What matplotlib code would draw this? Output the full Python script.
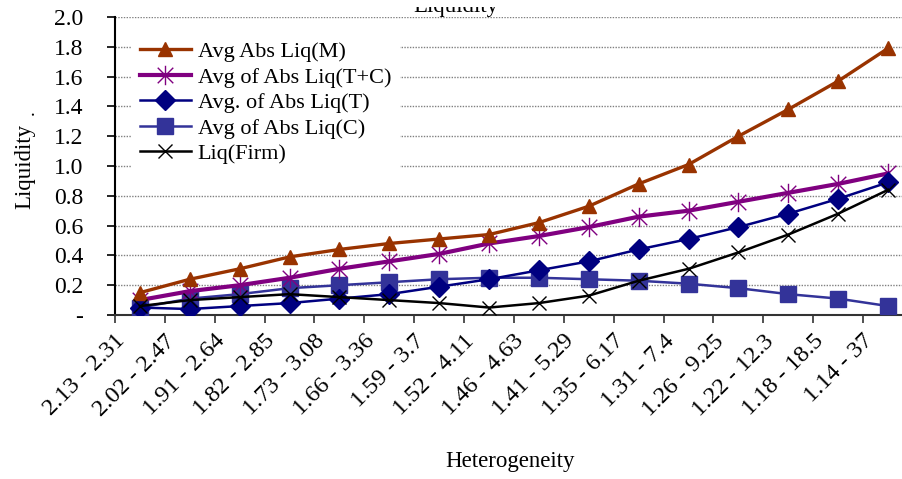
import matplotlib
matplotlib.use("Agg")
import matplotlib.pyplot as plt
import numpy as np
from matplotlib.path import Path
from matplotlib.ticker import FuncFormatter, FixedLocator, NullFormatter
from matplotlib.transforms import Bbox, ScaledTranslation

plt.rcParams["font.family"] = ["Liberation Serif", "DejaVu Serif"]

groups = ["2.13 - 2.31", "2.02 - 2.47", "1.91 - 2.64", "1.82 - 2.85", "1.73 - 3.08",
          "1.66 - 3.36", "1.59 - 3.7", "1.52 - 4.11", "1.46 - 4.63", "1.41 - 5.29",
          "1.35 - 6.17", "1.31 - 7.4", "1.26 - 9.25", "1.22 - 12.3", "1.18 - 18.5",
          "1.14 - 37"]
liq_m = [0.15, 0.24, 0.31, 0.39, 0.44, 0.48, 0.51, 0.54, 0.62, 0.73, 0.88, 1.01,
         1.20, 1.38, 1.57, 1.79]
liq_tc = [0.10, 0.16, 0.20, 0.25, 0.31, 0.36, 0.41, 0.48, 0.53, 0.59, 0.66, 0.70,
          0.76, 0.82, 0.88, 0.95]
liq_t = [0.05, 0.04, 0.06, 0.08, 0.11, 0.14, 0.19, 0.24, 0.30, 0.36, 0.44, 0.51,
         0.59, 0.68, 0.78, 0.89]
liq_c = [0.05, 0.11, 0.14, 0.18, 0.20, 0.22, 0.24, 0.25, 0.25, 0.24, 0.23, 0.21,
         0.18, 0.14, 0.11, 0.06]
liq_firm = [0.06, 0.10, 0.12, 0.14, 0.12, 0.10, 0.08, 0.05, 0.08, 0.13, 0.23, 0.31,
            0.42, 0.54, 0.68, 0.84]

# excel-style star: vertical bar plus an X
star = Path([(0, -1), (0, 1), (-0.8, -0.8), (0.8, 0.8), (-0.8, 0.8), (0.8, -0.8)],
            [Path.MOVETO, Path.LINETO, Path.MOVETO, Path.LINETO, Path.MOVETO, Path.LINETO])

W, H = 903, 479
fig = plt.figure(figsize=(W/100, H/100), dpi=100)
ax = fig.add_axes([115/W, 164/H, 798/W, 298/H])

x = np.arange(len(groups))
ax.plot(x, liq_m, color="#993300", lw=2.4, marker="^", ms=10, label="Avg Abs Liq(M)", zorder=5)
ax.plot(x, liq_tc, color="#800080", lw=3.0, marker=star, ms=14, mew=1.0,
        label="Avg of Abs Liq(T+C)", zorder=4)
ax.plot(x, liq_t, color="#000080", lw=1.8, marker="D", ms=10, label="Avg. of Abs Liq(T)", zorder=4)
ax.plot(x, liq_c, color="#333399", lw=1.8, marker="s", ms=11, label="Avg of Abs Liq(C)", zorder=3)
ax.plot(x, liq_firm, color="black", lw=1.8, marker="x", ms=10, mew=1.0, label="Liq(Firm)", zorder=6)

ax.set_xlim(-0.5, len(groups) - 0.5)
ax.set_ylim(0, 2.0)
ax.set_yticks(np.arange(0, 2.01, 0.2))
ax.yaxis.set_major_formatter(FuncFormatter(lambda v, p: "-" if abs(v) < 1e-9 else f"{v:.1f}"))
ax.grid(axis="y", color="#808080", lw=1.0, ls=(0, (1, 1)), zorder=0)
ax.set_axisbelow(True)

# category labels, slanted and ending just left of each category centre
ax.set_xticks(x)
ax.xaxis.set_major_formatter(NullFormatter())
ax.xaxis.set_minor_locator(FixedLocator(np.arange(-0.5, len(groups), 1.0)))
ax.tick_params(axis="x", which="major", length=0)
ax.tick_params(axis="x", which="minor", length=5.8, width=1.2, direction="out", color="#333333")
lab_off = ScaledTranslation(-18/100, -23/100, fig.dpi_scale_trans)
for xi, g in zip(x, groups):
    ax.text(xi, 0, g, transform=ax.get_xaxis_transform() + lab_off, rotation=45,
            rotation_mode="anchor", ha="right", va="center", fontsize=17.5)

ax.tick_params(axis="y", length=5.8, width=1.2, direction="out", labelsize=17, pad=17)

for s in ["top", "right"]:
    ax.spines[s].set_visible(False)
ax.spines["left"].set_linewidth(1.5)
ax.spines["bottom"].set_linewidth(1.5)
ax.spines["bottom"].set_color("#333333")

ax.set_xlabel("Heterogeneity", fontsize=16.5)
ax.xaxis.set_label_coords(0.495, -0.455)
ax.set_ylabel("Liquidity", fontsize=16.5)
ax.yaxis.set_label_coords(-0.1, 0.5)
fig.text(29/W, 1 - 113/H, ".", fontsize=14, rotation=90, ha="center", va="center")

# chart title sits mostly above the canvas; only its lower part shows
title = fig.text(456/W, 1 - 12/H, "Liquidity", fontsize=16.5, ha="center", va="baseline")
title.set_clip_box(Bbox.from_extents(0, 0, W, H - 7))

leg = ax.legend(loc="upper left", bbox_to_anchor=(0.02, 0.947), fontsize=16,
                handlelength=2.3, handletextpad=0.3, labelspacing=0.22,
                frameon=True, fancybox=False, borderaxespad=0.0)
leg.get_frame().set_facecolor("white")
leg.get_frame().set_edgecolor("none")
leg.get_frame().set_alpha(1.0)

fig.savefig("out.png", dpi=100)
